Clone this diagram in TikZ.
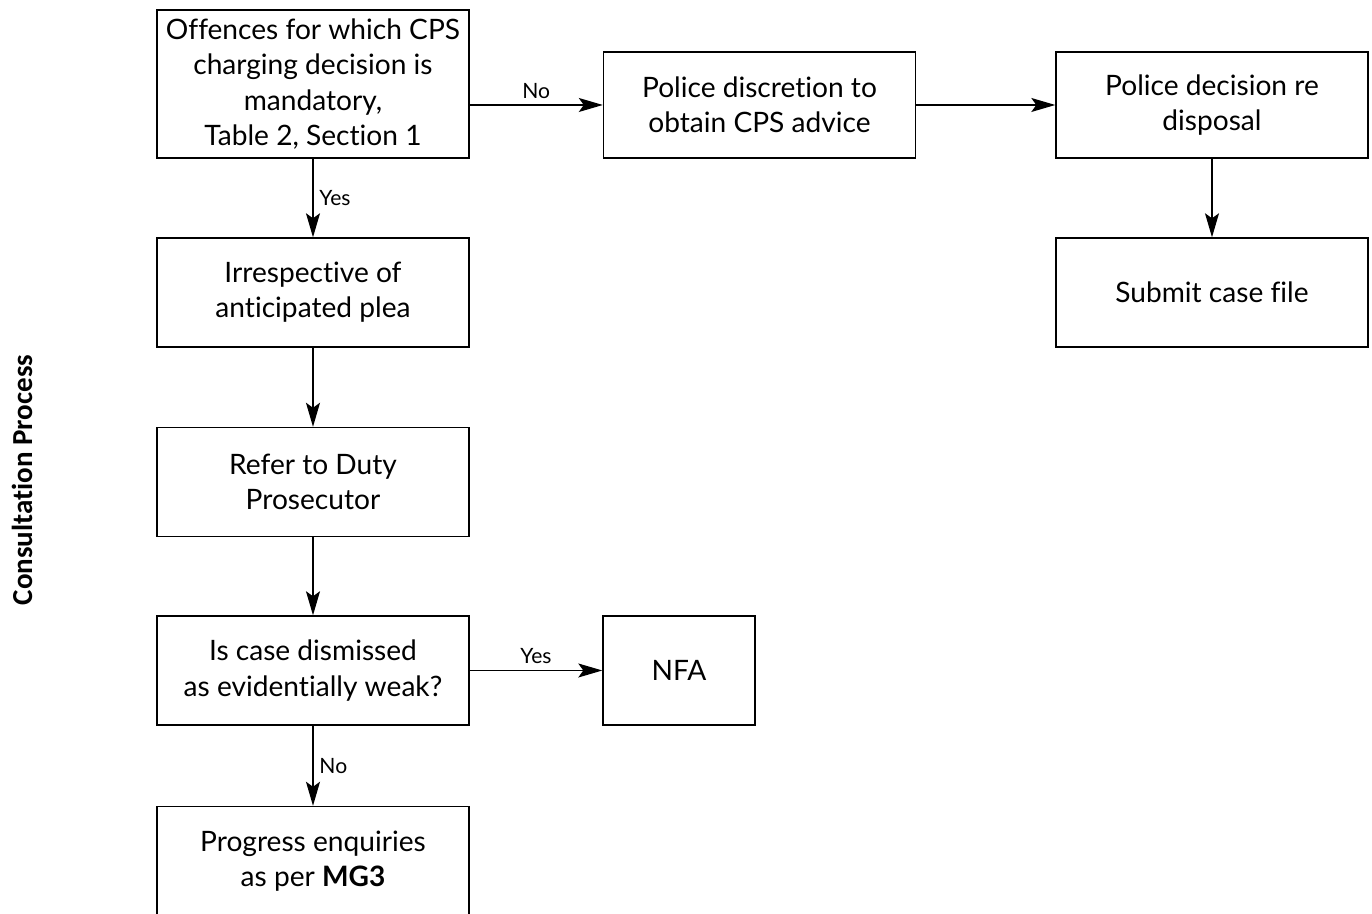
\documentclass[tikz,border=0pt]{standalone}
\usepackage{fontspec}
\setmainfont{Lato}[Ligatures={NoCommon}]
\newfontfamily\sidefont{Carlito}[Ligatures={NoCommon}]
\usepackage{tikz}
\usetikzlibrary{arrows.meta, positioning}

\begin{document}
\begin{tikzpicture}[
  block/.style={rectangle, draw, line width=0.8pt, minimum width=6.24cm, minimum height=2.18cm, align=center, font=\fontsize{16}{20}\selectfont},
  answer/.style={font=\fontsize{12}{14}\selectfont},
  arrow/.style={-{Stealth[length=4.8mm, width=2.8mm, inset=1mm]}, line width=0.7pt}
]
 \useasboundingbox (0,0) rectangle (27.44,18.28);
 \clip (0,0) rectangle (27.44,18.28);

 % Main column
 \node[block, minimum height=2.96cm] (offences) at (6.26,16.60) {Offences for which CPS\\ charging decision is\\ mandatory,\\ Table 2, Section 1};
 \node[block] (plea) at (6.26,12.43) {Irrespective of\\ anticipated plea};
 \node[block] (duty) at (6.26,8.64) {Refer to Duty\\ Prosecutor};
 \node[block] (dismissed) at (6.26,4.87) {Is case dismissed\\ as evidentially weak?};
 \node[block] (mg3) at (6.26,1.06) {Progress enquiries\\ as per \textbf{MG3}};
 \draw[arrow] (offences) -- (plea) node[midway, right, answer]{Yes};
 \draw[arrow] (plea) -- (duty);
 \draw[arrow] (duty) -- (dismissed);
 \draw[arrow] (dismissed) -- (mg3) node[midway, right, answer]{No};

 % Police side
 \node[block, minimum height=2.12cm] (discretion) at (15.19,16.18) {Police discretion to\\ obtain CPS advice};
 \node[block, minimum height=2.12cm] (disposal) at (24.24,16.18) {Police decision re\\ disposal};
 \node[block] (submit) at (24.24,12.43) {Submit case file};
 \draw[arrow] (offences.east |- discretion.west) -- (discretion.west) node[midway, above, answer]{No};
 \draw[arrow] (discretion) -- (disposal);
 \draw[arrow] (disposal) -- (submit);

 \node[block, minimum width=3.04cm] (nfa) at (13.58,4.87) {NFA};
 \draw[arrow] (dismissed) -- (nfa) node[midway, above, answer]{Yes};

 \node[rotate=90, font={\sidefont\bfseries\fontsize{16.5}{18}\selectfont}] (side) at (0.44,8.68) {Consultation Process};
\end{tikzpicture}
\end{document}
